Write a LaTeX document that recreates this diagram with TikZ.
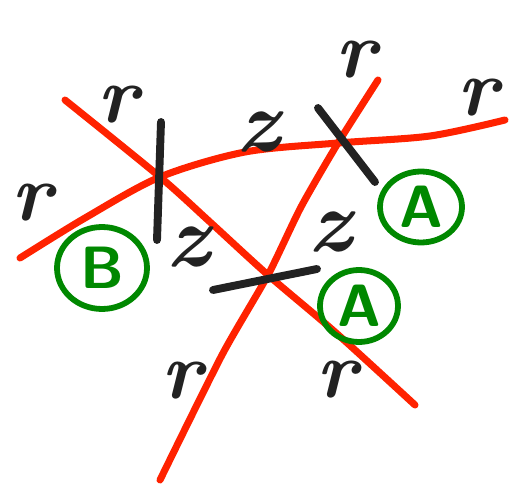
\documentclass[tikz,border=0pt]{standalone}
\usepackage{tikz}
\usetikzlibrary{positioning, calc, shapes.geometric}
\definecolor{strandred}{RGB}{255,34,0}
\definecolor{markgreen}{RGB}{0,136,0}
\definecolor{inkblack}{RGB}{34,34,34}
\tikzset{
  strand/.style={draw=strandred,line width=4pt,line cap=round,line join=round},
  smoothbar/.style={draw=inkblack,line width=4.5pt,line cap=round},
  regionmark/.style={ellipse,draw=markgreen,line width=3.3pt,text=markgreen,inner sep=0pt,font=\sffamily\bfseries\fontsize{34}{34}\selectfont},
  arclabel/.style={text=inkblack,inner sep=0pt,font=\bfseries\itshape\fontsize{46}{46}\selectfont},
  barlabel/.style={text=inkblack,inner sep=0pt,font=\bfseries\itshape\fontsize{50}{50}\selectfont}
}
\begin{document}
\begin{tikzpicture}[x=0.02cm,y=-0.02cm]
  \useasboundingbox (0,0) rectangle (518,490);
  % crossings
  \coordinate (c1) at (160,177);
  \coordinate (c2) at (338,143);
  \coordinate (c3) at (268,275);

  % strand ends
  \coordinate (s1a) at (65,100);  \coordinate (s1b) at (415,405);
  \coordinate (s2a) at (20,258);  \coordinate (s2b) at (505,120);
  \coordinate (s3a) at (378,80);  \coordinate (s3b) at (160,480);

  \draw[strand] plot[smooth] coordinates {(s1a) (c1) (210,222) (c3) (335,332) (s1b)};
  \draw[strand] plot[smooth] coordinates {(s2a) (85,218) (c1) (245,152) (c2) (430,136) (s2b)};
  \draw[strand] plot[smooth,tension=0.4] coordinates {(s3a) (c2) (301,207) (c3) (222,355) (s3b)};

  % smoothing markers
  \draw[smoothbar] ($(c1)+(1,-55)$) coordinate (b1a) -- ($(c1)+(-3,63)$) coordinate (b1b);
  \draw[smoothbar] ($(c2)+(-20,-35)$) coordinate (b2a) -- ($(c2)+(37,39)$) coordinate (b2b);
  \draw[smoothbar] ($(c3)+(-55,15)$) coordinate (b3a) -- ($(c3)+(49,-6)$) coordinate (b3b);

  % labels
  \node[arclabel] (r1) at (118,105) {r};
  \node[arclabel] (r2) at (32,203) {r};
  \node[arclabel] (r3) at (356,60) {r};
  \node[arclabel] (r4) at (478,98) {r};
  \node[arclabel] (r5) at (182,381) {r};
  \node[arclabel] (r6) at (337,380) {r};
  \node[barlabel] (z1) at (258,132) {z};
  \node[barlabel] (z2) at (188,247) {z};
  \node[barlabel] (z3) at (330,232) {z};

  % regions
  \node[regionmark,minimum width=1.8cm,minimum height=1.64cm] (rB) at (102,268) {B};
  \node[regionmark,minimum width=1.64cm,minimum height=1.42cm] (rA1) at (421,207) {A};
  \node[regionmark,minimum width=1.56cm,minimum height=1.44cm] (rA2) at (359,306) {A};
\end{tikzpicture}
\end{document}
